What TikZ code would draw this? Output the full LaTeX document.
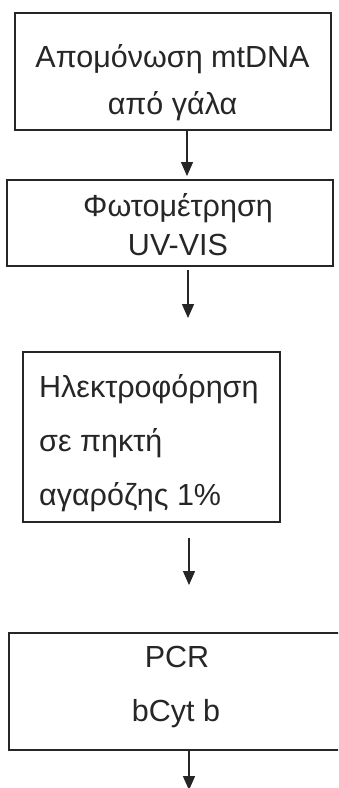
\documentclass[tikz,border=0pt]{standalone}
\usepackage{fontspec}
\setmainfont{Liberation Sans}
\usetikzlibrary{arrows.meta}
\definecolor{ink}{HTML}{262626}
\begin{document}
\begin{tikzpicture}[x=1pt,y=-1pt,
  box/.style={draw=ink,line width=1.6pt,rectangle,inner sep=0pt},
  txt/.style={text=ink,inner sep=0pt,font=\fontsize{30.5}{36}\selectfont},
  arr/.style={draw=ink,line width=1.4pt,-{Triangle[length=14pt,width=12pt]}}]
\useasboundingbox (0,0) rectangle (338,788);
\clip (0,0) rectangle (338,788);
\fill[white] (0,0) rectangle (338,788);
% boxes
\node[box,minimum width=316pt,minimum height=117pt] (b1) at (173,71.5) {};
\node[box,minimum width=326pt,minimum height=86pt] (b2) at (170,223) {};
\node[box,minimum width=257pt,minimum height=170pt] (b3) at (151.5,437) {};
\node[box,minimum width=346pt,minimum height=117pt] (b4) at (182,691.5) {};
% texts
\node[txt,anchor=base] (t1a) at (172.5,67) {Απομόνωση mtDNA};
\node[txt,anchor=base] (t1b) at (172.5,114) {από γάλα};
\node[txt,anchor=base] (t2a) at (178,216) {Φωτομέτρηση};
\node[txt,anchor=base] (t2b) at (178,255) {UV-VIS};
\node[txt,anchor=base west] (t3a) at (39,397) {Ηλεκτροφόρηση};
\node[txt,anchor=base west] (t3b) at (39,451) {σε πηκτή};
\node[txt,anchor=base west] (t3c) at (39,505) {αγαρόζης 1\%};
\node[txt,anchor=base] (t4a) at (177,667) {PCR};
\node[txt,anchor=base] (t4b) at (176,721) {bCyt b};
% arrow ends
\coordinate (e1) at (187,176);
\coordinate (s2) at (188,270);
\coordinate (e2) at (188,318);
\coordinate (s3) at (189,538);
\coordinate (e3) at (189,585);
\coordinate (e4) at (189,790);
\draw[arr] (b1.south -| e1) -- (e1);
\draw[arr] (s2) -- (e2);
\draw[arr] (s3) -- (e3);
\draw[arr] (b4.south -| e4) -- (e4);
\end{tikzpicture}
\end{document}
